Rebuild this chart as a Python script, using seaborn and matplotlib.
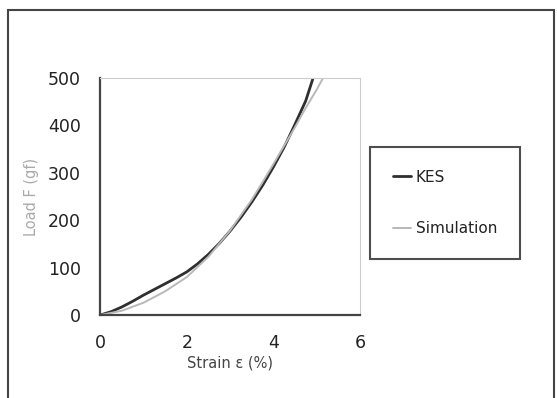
import seaborn as sns
import matplotlib.pyplot as plt
import matplotlib.patches as mpatches
import pandas as pd

kes_strain = [0.0, 0.25, 0.5, 0.75, 1.0, 1.25, 1.5, 1.75, 2.0, 2.25, 2.5, 2.75,
              3.0, 3.25, 3.5, 3.75, 4.0, 4.25, 4.5, 4.75, 4.92]
kes_load = [0, 7, 17, 29, 42, 54, 66, 78, 91, 108, 128, 151,
            177, 206, 238, 273, 312, 354, 402, 452, 500]

sim_strain = [0.0, 0.5, 1.0, 1.5, 2.0, 2.5, 3.0, 3.5, 3.75, 4.0, 4.25, 4.5, 4.75, 5.0, 5.15]
sim_load = [0, 9, 26, 50, 80, 123, 178, 243, 280, 318, 357, 396, 437, 475, 500]

x_ticks = [0, 2, 4, 6]
y_ticks = [0, 100, 200, 300, 400, 500]

df = pd.concat([
    pd.DataFrame({"strain": kes_strain, "load": kes_load, "series": "KES"}),
    pd.DataFrame({"strain": sim_strain, "load": sim_load, "series": "Simulation"}),
])

sns.set_style("white")
plt.rcParams['font.family'] = ['DejaVu Sans']

fig = plt.figure(figsize=(5.57, 3.98), dpi=100)
ax = fig.add_axes([0.18, 0.2085, 0.466, 0.5955])

# outer frame of the original figure
fig.patches.append(mpatches.Rectangle((0.015, -0.05), 0.98, 1.025, transform=fig.transFigure,
                                      fill=False, edgecolor="#444444", linewidth=1.5))

sns.lineplot(data=df, x="strain", y="load", hue="series", sort=False,
             palette={"KES": "#2f2f2f", "Simulation": "#b8b8b8"}, ax=ax, legend=False)
ax.lines[0].set_linewidth(2.0)
ax.lines[1].set_linewidth(1.4)

ax.set_xlim(0, 6)
ax.set_ylim(0, 500)
ax.set_xticks(x_ticks)
ax.set_yticks(y_ticks)
ax.tick_params(direction="in", length=5, width=1.2, colors="#444444", labelsize=12.5, pad=14)
for lab in ax.get_xticklabels() + ax.get_yticklabels():
    lab.set_color("#222222")

ax.spines["left"].set_color("#444444")
ax.spines["bottom"].set_color("#444444")
ax.spines["left"].set_linewidth(1.6)
ax.spines["bottom"].set_linewidth(1.6)
ax.spines["top"].set_color("#cccccc")
ax.spines["right"].set_color("#cccccc")

ax.set_xlabel("Strain ε (%)", fontsize=10.5, color="#444444", labelpad=2)
ax.set_ylabel("Load F (gf)", fontsize=10.5, color="#aaaaaa", labelpad=6)

leg = fig.legend(handles=ax.lines, labels=["KES", "Simulation"], loc="center left",
                 bbox_to_anchor=(0.664, 0.49), frameon=True, fancybox=False,
                 edgecolor="#222222", fontsize=11, handlelength=1.2, handletextpad=0.3,
                 labelspacing=2.4, borderpad=1.5, borderaxespad=0)
leg.get_frame().set_linewidth(1.5)
for t in leg.get_texts():
    t.set_color("#222222")

fig.savefig("out.png", dpi=100)
